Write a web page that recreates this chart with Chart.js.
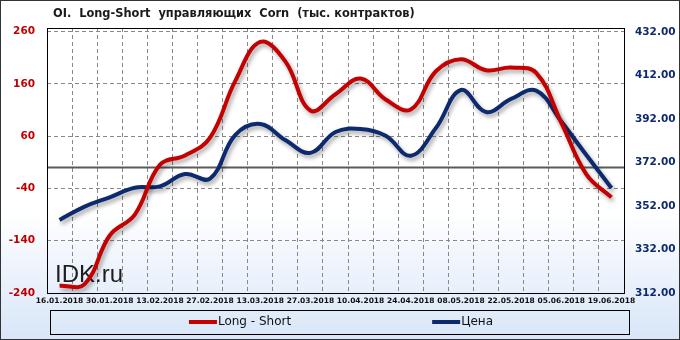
<!DOCTYPE html>
<html>
<head>
<meta charset="utf-8">
<script src="https://cdn.jsdelivr.net/npm/chart.js@4.4.1/dist/chart.umd.min.js"></script>
<style>
  html, body { margin: 0; padding: 0; background: #fff; }
  #wrap { width: 680px; height: 340px; }
</style>
</head>
<body>
<div id="wrap"><canvas id="oiChart" width="680" height="340"></canvas></div>
<script>
// недельные даты отчётов COT
const dates = ['16.01.2018', '23.01.2018', '30.01.2018', '06.02.2018', '13.02.2018', '20.02.2018',
    '27.02.2018', '06.03.2018', '13.03.2018', '20.03.2018', '27.03.2018', '03.04.2018',
    '10.04.2018', '17.04.2018', '24.04.2018', '01.05.2018', '08.05.2018', '15.05.2018',
    '22.05.2018', '29.05.2018', '05.06.2018', '12.06.2018', '19.06.2018'];

// Long - Short, тыс. контрактов
const longShort = [-226, -223, -130, -90, 5, 23, 57, 165, 240, 203, 109, 140,
    170, 130, 111, 184, 207, 186, 191, 181, 86, -13, -57];

// цена
const price = [345.6, 351.7, 356.0, 360.4, 361.0, 366.7, 364.6, 384.6, 389.7, 382.3, 376.4, 386.0,
    387.4, 384.3, 375.1, 387.8, 405.3, 395.2, 401.2, 405.0, 390.8, 375.4, 360.3];

const leftTicks = [-240, -140, -40, 60, 160, 260];
const rightTicks = [312, 332, 352, 372, 392, 412, 432];

const chartTitle = 'OI.  Long-Short  управляющих  Corn  (тыс. контрактов)';
const watermark = 'IDK.ru';

Chart.defaults.font.family = '"DejaVu Sans", Verdana, sans-serif';

// фон, заголовок, нулевая линия, тени, рамки и легенда
const decorPlugin = {
    id: 'decor',
    beforeDraw(chart) {
        const ctx = chart.ctx;
        const g = ctx.createLinearGradient(0, 0, 0, chart.height);
        g.addColorStop(0, '#ffffff');
        g.addColorStop(0.62, '#ffffff');
        g.addColorStop(1, '#d8e6f8');
        ctx.save();
        ctx.fillStyle = g;
        ctx.fillRect(0, 0, chart.width, chart.height);
        ctx.font = 'bold 11.4px "DejaVu Sans"';
        ctx.fillStyle = '#1a1a1a';
        ctx.textBaseline = 'middle';
        ctx.fillText(chartTitle, 53, 14);
        ctx.restore();
    },
    beforeDatasetsDraw(chart) {
        const ctx = chart.ctx;
        const area = chart.chartArea;
        const y0 = chart.scales.yL.getPixelForValue(0);
        ctx.save();
        ctx.strokeStyle = '#5a5a5a';
        ctx.lineWidth = 2;
        ctx.beginPath();
        ctx.moveTo(area.left, y0);
        ctx.lineTo(area.right, y0);
        ctx.stroke();
        ctx.font = '24px "Liberation Sans"';
        ctx.fillStyle = '#1e1e1e';
        ctx.textBaseline = 'alphabetic';
        ctx.fillText(watermark, 55, 282);
        ctx.restore();
        // тень под линиями
        ctx.save();
        ctx.shadowColor = 'rgba(0, 0, 0, 0.35)';
        ctx.shadowBlur = 4;
        ctx.shadowOffsetX = 2;
        ctx.shadowOffsetY = 3;
    },
    afterDatasetsDraw(chart) {
        chart.ctx.restore();
    },
    afterDraw(chart) {
        const ctx = chart.ctx;
        const area = chart.chartArea;
        ctx.save();
        ctx.strokeStyle = '#000';
        ctx.lineWidth = 1;
        ctx.strokeRect(Math.round(area.left) + 0.5, Math.round(area.top) + 0.5,
            Math.round(area.right - area.left), Math.round(area.bottom - area.top));
        ctx.strokeStyle = '#333';
        ctx.strokeRect(0.5, 0.5, chart.width - 1, chart.height - 1);

        // легенда
        ctx.strokeStyle = '#000';
        ctx.strokeRect(50.5, 310.5, 579, 24);
        ctx.font = '12px "DejaVu Sans"';
        ctx.textBaseline = 'middle';
        const sets = chart.data.datasets;
        const sample = 28, gap = 141, ly = 322;
        const widths = sets.map(ds => sample + 1 + ctx.measureText(ds.label).width);
        let x = 341 - (widths[0] + gap + widths[1]) / 2;
        sets.forEach((ds, i) => {
            ctx.strokeStyle = ds.borderColor;
            ctx.lineWidth = 4;
            ctx.beginPath();
            ctx.moveTo(x, ly);
            ctx.lineTo(x + sample, ly);
            ctx.stroke();
            ctx.fillStyle = '#111';
            ctx.fillText(ds.label, x + sample + 1, ly);
            x += widths[i] + gap;
        });
        ctx.restore();
    }
};

const ctx = document.getElementById('oiChart').getContext('2d');
new Chart(ctx, {
    type: 'line',
    data: {
        labels: dates,
        datasets: [
            {
                label: 'Long - Short',
                data: longShort,
                yAxisID: 'yL',
                borderColor: '#c40000',
                borderWidth: 4,
                tension: 0.4,
                pointRadius: 0,
                fill: false
            },
            {
                label: 'Цена',
                data: price,
                yAxisID: 'yR',
                borderColor: '#0d2a6e',
                borderWidth: 4,
                tension: 0.4,
                pointRadius: 0,
                fill: false
            }
        ]
    },
    options: {
        responsive: false,
        animation: false,
        layout: { padding: { top: 28, bottom: 31, left: 0, right: 0 } },
        plugins: {
            legend: { display: false },
            title: { display: false },
            tooltip: { enabled: false }
        },
        scales: {
            x: {
                offset: true,
                grid: { offset: true, color: '#888888', drawTicks: false },
                border: { display: false, dash: [4, 3] },
                ticks: {
                    autoSkip: false,
                    maxRotation: 0,
                    padding: 4,
                    color: '#111',
                    font: { size: 7.5, weight: 'bold' },
                    callback: function(value, index) {
                        return index % 2 === 0 ? dates[index] : '';
                    }
                },
                afterFit(scale) { scale.height = 16; }
            },
            yL: {
                position: 'left',
                min: -240,
                max: 266.7,
                afterBuildTicks(scale) {
                    scale.ticks = leftTicks.map(v => ({ value: v }));
                },
                grid: { color: '#888888', drawTicks: false },
                border: { display: false, dash: [4, 3] },
                ticks: {
                    padding: 12,
                    color: '#c00000',
                    font: { size: 10.5, weight: 'bold' }
                },
                afterFit(scale) { scale.width = 47; }
            },
            yR: {
                position: 'right',
                min: 312,
                max: 433.8,
                afterBuildTicks(scale) {
                    scale.ticks = rightTicks.map(v => ({ value: v }));
                },
                grid: { drawOnChartArea: false, drawTicks: false },
                border: { display: false },
                ticks: {
                    padding: 11,
                    color: '#0d2a6e',
                    font: { size: 10.5, weight: 'bold' },
                    callback: function(value) {
                        return value.toFixed(2);
                    }
                },
                afterFit(scale) { scale.width = 56; }
            }
        }
    },
    plugins: [decorPlugin]
});
</script>
</body>
</html>
